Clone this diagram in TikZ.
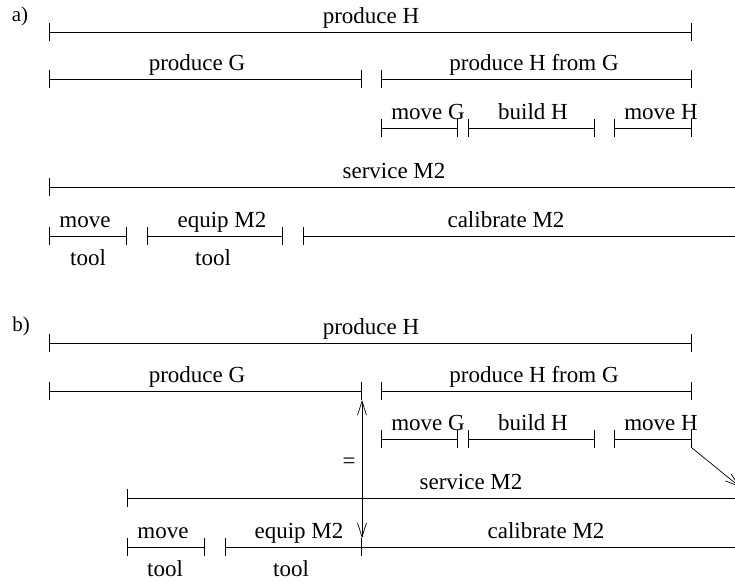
\documentclass[tikz,border=0pt]{standalone}
\usepackage{fontspec}
\setmainfont{Liberation Serif}
\usetikzlibrary{arrows.meta,calc}
\begin{document}
\begin{tikzpicture}[x=1pt,y=-1pt,line width=0.9pt,
  span/.style={{Bar[width=18pt]}-{Bar[width=18pt]}},
  spanopen/.style={{Bar[width=18pt]}-},
  lbl/.style={anchor=base,inner sep=0pt,font=\fontsize{23pt}{27pt}\selectfont},
  tag/.style={anchor=base,inner sep=0pt,font=\fontsize{21pt}{25pt}\selectfont},
  barb/.style={line width=0.7pt,-{Straight Barb[length=14pt,width=9pt]}},
  dbarb/.style={line width=0.7pt,{Straight Barb[length=14pt,width=9pt]}-{Straight Barb[length=14pt,width=9pt]}}]
\clip (0,0) rectangle (735,582);

% ---------- part a ----------
\node[tag] (taga) at (20,21) {a)};

\coordinate (pHaL) at (49,32);   \coordinate (pHaR) at (692,32);
\coordinate (pGaL) at (49,79);   \coordinate (pGaR) at (362,79);
\coordinate (hGaL) at (381,79);  \coordinate (hGaR) at (692,79);
\coordinate (mGaL) at (381,128); \coordinate (mGaR) at (458,128);
\coordinate (bHaL) at (468,128); \coordinate (bHaR) at (595,128);
\coordinate (mHaL) at (614,128); \coordinate (mHaR) at (692,128);
\coordinate (sMaL) at (49,187);  \coordinate (sMaR) at (760,187);
\coordinate (mTaL) at (49,236);  \coordinate (mTaR) at (127,236);
\coordinate (eMaL) at (147,236); \coordinate (eMaR) at (283,236);
\coordinate (cMaL) at (303,236); \coordinate (cMaR) at (760,236);

\draw[span] (pHaL) -- (pHaR);
\draw[span] (pGaL) -- (pGaR);
\draw[span] (hGaL) -- (hGaR);
\draw[span] (mGaL) -- (mGaR);
\draw[span] (bHaL) -- (bHaR);
\draw[span] (mHaL) -- (mHaR);
\draw[spanopen] (sMaL) -- (sMaR);
\draw[span] (mTaL) -- (mTaR);
\draw[span] (eMaL) -- (eMaR);
\draw[spanopen] (cMaL) -- (cMaR);

\node[lbl] (lpHa) at (371,23)  {produce H};
\node[lbl] (lpGa) at (197,70)  {produce G};
\node[lbl] (lhGa) at (534,70)  {produce H from G};
\node[lbl] (lmGa) at (428,119) {move G};
\node[lbl] (lbHa) at (533,119) {build H};
\node[lbl] (lmHa) at (661,119) {move H};
\node[lbl] (lsMa) at (394,178) {service M2};
\node[lbl] (lmTa) at (85,227)  {move};
\node[lbl] (ltTa) at (88,265)  {tool};
\node[lbl] (leMa) at (222,227) {equip M2};
\node[lbl] (ltEa) at (213,265) {tool};
\node[lbl] (lcMa) at (506,227) {calibrate M2};

% ---------- part b ----------
\node[tag] (tagb) at (21,331) {b)};

\coordinate (pHbL) at (49,343);  \coordinate (pHbR) at (692,343);
\coordinate (pGbL) at (49,391);  \coordinate (pGbR) at (362,391);
\coordinate (hGbL) at (381,391); \coordinate (hGbR) at (692,391);
\coordinate (mGbL) at (381,439); \coordinate (mGbR) at (458,439);
\coordinate (bHbL) at (468,439); \coordinate (bHbR) at (595,439);
\coordinate (mHbL) at (614,439); \coordinate (mHbR) at (692,439);
\coordinate (sMbL) at (127,498); \coordinate (sMbR) at (840,498);
\coordinate (mTbL) at (127,547); \coordinate (mTbR) at (205,547);
\coordinate (eMbL) at (225,547); \coordinate (eMbR) at (362,547);
\coordinate (cMbL) at (362,547); \coordinate (cMbR) at (840,547);
\coordinate (shift) at (740,487);

\draw[span] (pHbL) -- (pHbR);
\draw[span] (pGbL) -- (pGbR);
\draw[span] (hGbL) -- (hGbR);
\draw[span] (mGbL) -- (mGbR);
\draw[span] (bHbL) -- (bHbR);
\draw[span] (mHbL) -- (mHbR);
\draw[spanopen] (sMbL) -- (sMbR);
\draw[span] (mTbL) -- (mTbR);
\draw[span] (eMbL) -- (eMbR);
% calibrate M2 starts where equip M2 ends and shares its tick
\draw (cMbL) -- (cMbR);

\node[lbl] (lpHb) at (371,334) {produce H};
\node[lbl] (lpGb) at (197,382) {produce G};
\node[lbl] (lhGb) at (534,382) {produce H from G};
\node[lbl] (lmGb) at (428,430) {move G};
\node[lbl] (lbHb) at (533,430) {build H};
\node[lbl] (lmHb) at (661,430) {move H};
\node[lbl] (lsMb) at (471,489) {service M2};
\node[lbl] (lmTb) at (163,538) {move};
\node[lbl] (ltTb) at (165,576) {tool};
\node[lbl] (leMb) at (299,538) {equip M2};
\node[lbl] (ltEb) at (291,576) {tool};
\node[lbl] (lcMb) at (546,538) {calibrate M2};

% equality of the end of produce G and the end of equip M2
\draw[dbarb] ($(pGbR)+(0,9)$) -- ($(eMbR)+(0,-9)$);
\node[font=\fontsize{23pt}{27pt}\selectfont,inner sep=0pt] (eq) at (349,463) {=};

% move H pushes service M2 to the right
\draw[barb] ($(mHbR)+(0,9)$) -- (shift);
\end{tikzpicture}
\end{document}
